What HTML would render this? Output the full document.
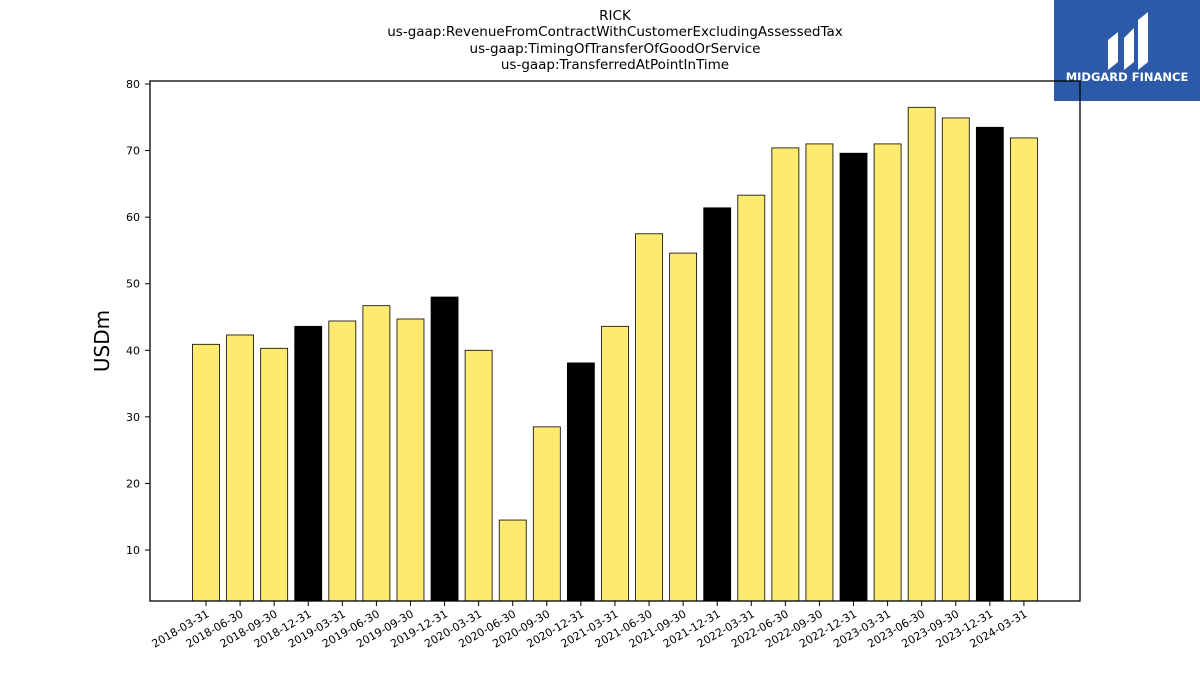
<!DOCTYPE html>
<html><head><meta charset="utf-8"><style>
body{margin:0;background:#fff;font-family:"Liberation Sans","DejaVu Sans",sans-serif}
svg text{font-family:"DejaVu Sans","Liberation Sans",sans-serif}
</style></head><body>
<svg id="c" width="1200" height="675" xmlns="http://www.w3.org/2000/svg">
<g font-size="13.5" text-anchor="middle" fill="#000">
<text x="615" y="20">RICK</text>
<text x="615" y="36">us-gaap:RevenueFromContractWithCustomerExcludingAssessedTax</text>
<text x="615" y="53">us-gaap:TimingOfTransferOfGoodOrService</text>
<text x="615" y="69">us-gaap:TransferredAtPointInTime</text>
</g>
<g>
<rect x="1054" y="0" width="146" height="101" fill="#2c5aa8"/>
<path d="M1108 70 L1108 40 L1118 32 L1118 62 Z M1124 70 L1124 38 L1134 28 L1134 62 Z M1138 70 L1138 20 L1148 12 L1148 62 Z" fill="#fff"/>
<text x="1127" y="81" font-size="11.5" font-weight="bold" fill="#fff" text-anchor="middle">MIDGARD FINANCE</text>
</g>
<g id="bars"></g>
<g id="axes"></g>
<text x="0" y="0" font-size="20" text-anchor="middle" transform="translate(109,341) rotate(-90)">USDm</text>
</svg>
<script>
const categories=["2018-03-31","2018-06-30","2018-09-30","2018-12-31","2019-03-31","2019-06-30","2019-09-30","2019-12-31","2020-03-31","2020-06-30","2020-09-30","2020-12-31","2021-03-31","2021-06-30","2021-09-30","2021-12-31","2022-03-31","2022-06-30","2022-09-30","2022-12-31","2023-03-31","2023-06-30","2023-09-30","2023-12-31","2024-03-31"];
const values=[40.9,42.3,40.3,43.6,44.4,46.7,44.7,48.0,40.0,14.5,28.5,38.1,43.6,57.5,54.6,61.4,63.3,70.4,71.0,69.6,71.0,76.5,74.9,73.5,71.9];
const yTicks=[10,20,30,40,50,60,70,80];
const NS="http://www.w3.org/2000/svg";
const L=150,R=1080,T=81,B=601,yMin=2.34,yMax=80.45;
const y=v=>B-(v-yMin)/(yMax-yMin)*(B-T);
const step=34.08,x0=206;
const x=i=>x0+i*step;
const bw=27;
const bars=document.getElementById('bars'),axes=document.getElementById('axes');
function mk(t,a,p){const e=document.createElementNS(NS,t);for(const k in a)e.setAttribute(k,a[k]);p.appendChild(e);return e;}
values.forEach((v,i)=>{
 const r=mk('rect',{x:x(i)-bw/2,y:y(v),width:bw,height:B-y(v),fill:categories[i].endsWith('12-31')?'#000':'#fdea6f',stroke:'#000','stroke-width':0.8},bars);
 
 
});
const fr=mk('rect',{x:L,y:T,width:R-L,height:B-T,fill:'none',stroke:'#000','stroke-width':1.3},axes);


yTicks.forEach(t=>{
 mk('line',{x1:L-5,x2:L,y1:y(t),y2:y(t),stroke:'#000'},axes);
 const tx=mk('text',{x:L-10,y:y(t)+4,'font-size':11,'text-anchor':'end'},axes);
 tx.textContent=t;
 
 
});
categories.forEach((c,i)=>{
 mk('line',{x1:x(i),x2:x(i),y1:B,y2:B+5,stroke:'#000'},axes);
 const tx=mk('text',{x:0,y:0,'font-size':11,'text-anchor':'end',transform:`translate(${x(i)+4},${B+15}) rotate(-30)`},axes);
 tx.textContent=c;
 
 
});
</script>
</body></html>
